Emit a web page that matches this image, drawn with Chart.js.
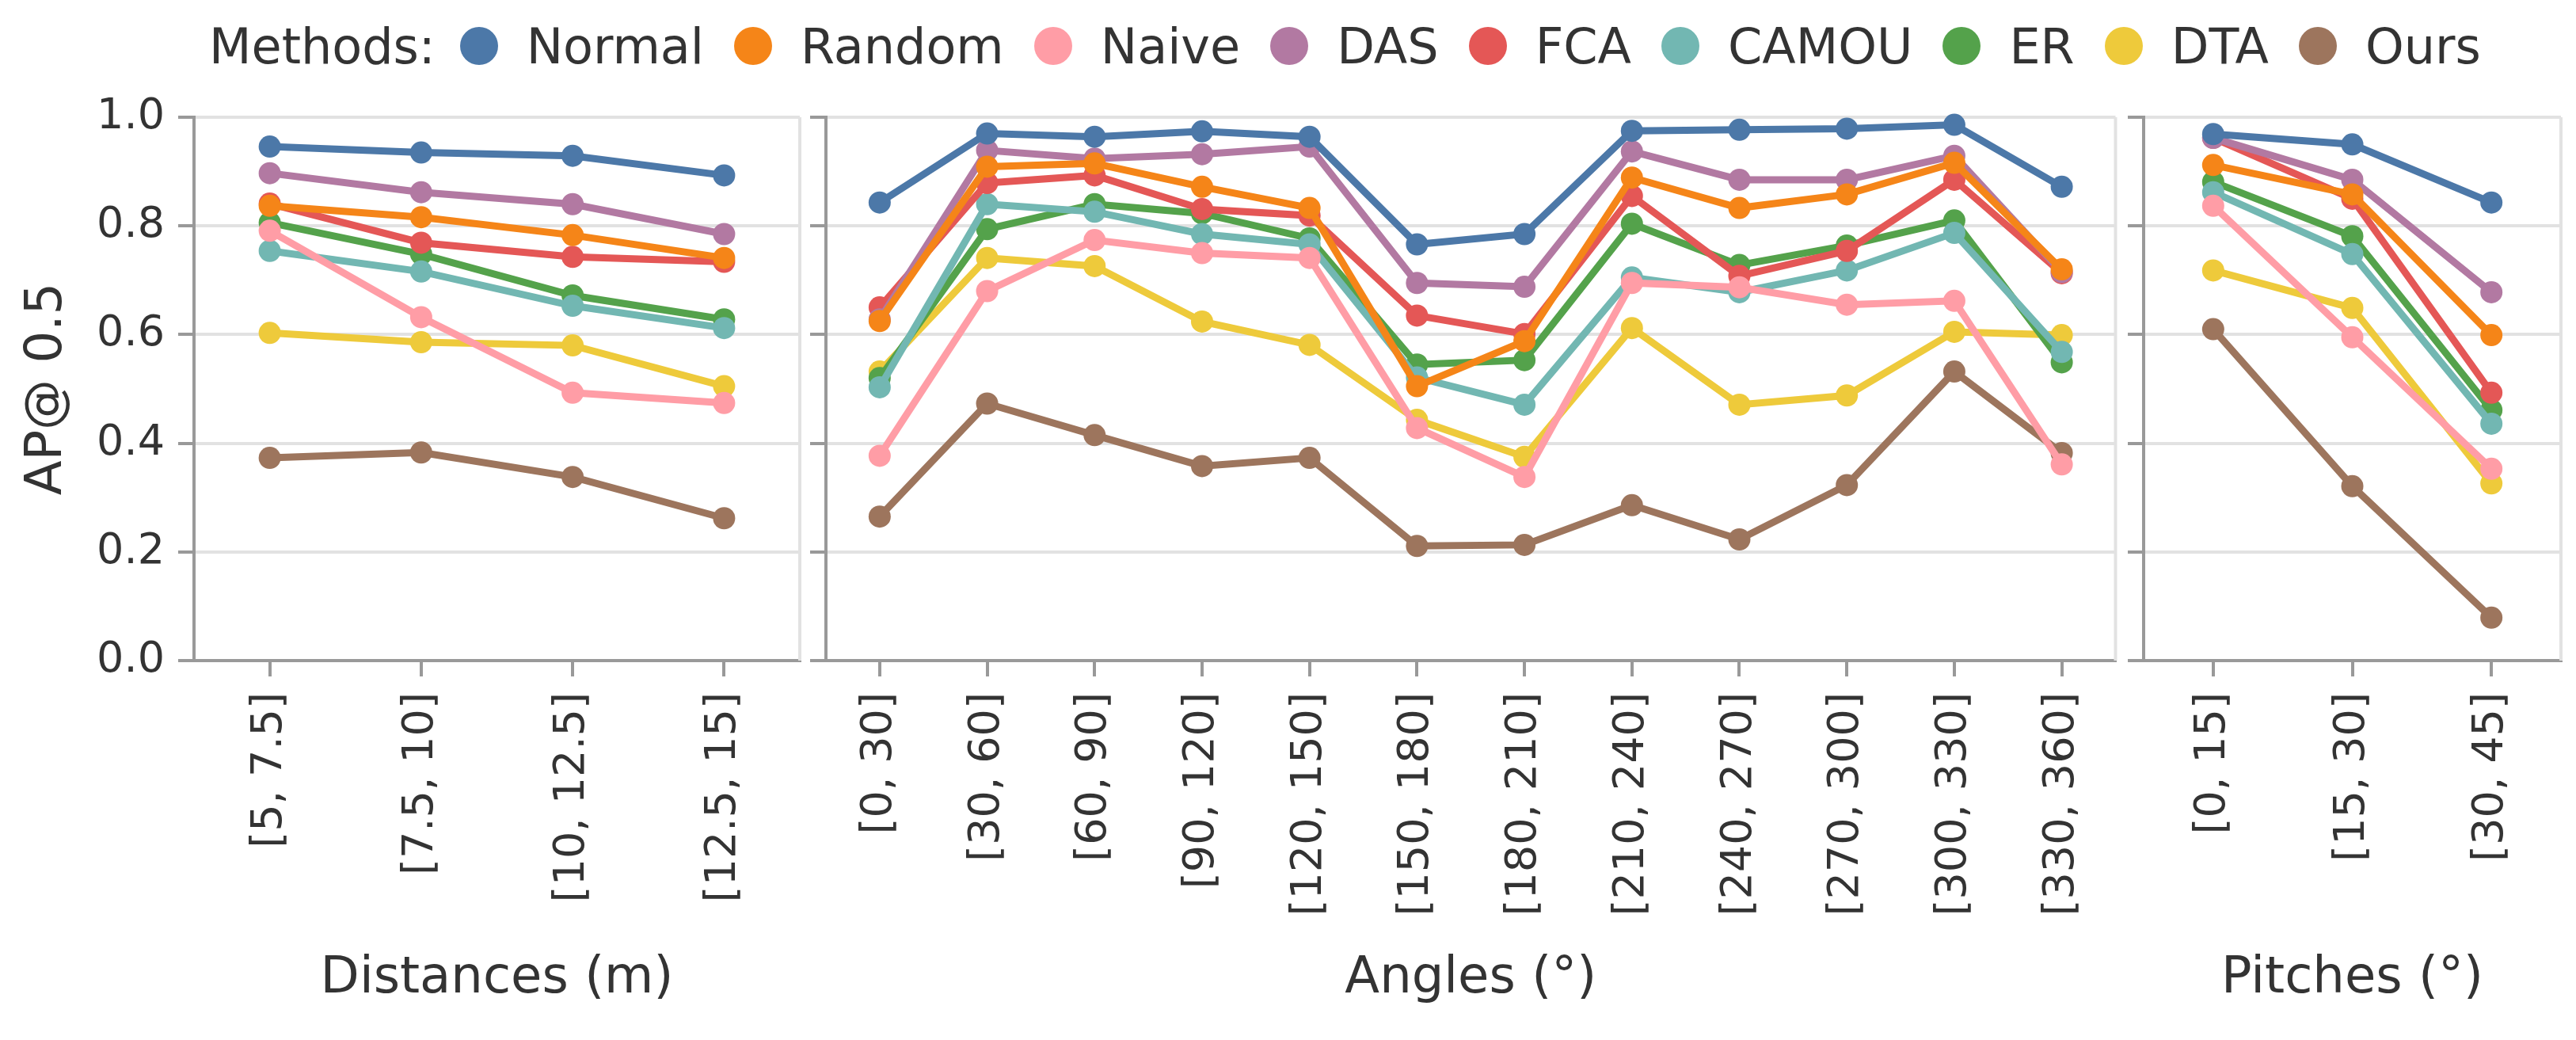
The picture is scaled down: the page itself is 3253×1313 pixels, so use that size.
<!DOCTYPE html>
<html>
<head>
<meta charset="utf-8">
<title>AP@0.5 by distance, angle and pitch</title>
<script src="https://cdn.jsdelivr.net/npm/chart.js@4.4.0/dist/chart.umd.min.js"></script>
<style>
  html, body { margin: 0; padding: 0; background: #fff; }
  body { width: 3253px; height: 1313px; position: relative; overflow: hidden;
         font-family: "DejaVu Sans", sans-serif; color: #333; }
  .panel { position: absolute; top: 0; height: 1313px; }
  #legend { position: absolute; left: 264px; top: 20px; height: 76px; display: flex;
            align-items: center; font-size: 62px; white-space: nowrap; }
  #legend .head { margin-right: 31px; }
  #legend .dot { width: 48px; height: 48px; border-radius: 50%; margin-right: 36px; flex: none; }
  #legend .name { margin-right: 38px; }
</style>
</head>
<body>
<div id="legend"><span class="head">Methods:</span></div>
<div class="panel" id="p1" style="left:0; width:1024px"><canvas id="distChart"></canvas></div>
<div class="panel" id="p2" style="left:1018px; width:1671px"><canvas id="angleChart"></canvas></div>
<div class="panel" id="p3" style="left:2682px; width:566px"><canvas id="pitchChart"></canvas></div>
<script>
const methods = ["Normal", "Random", "Naive", "DAS", "FCA", "CAMOU", "ER", "DTA", "Ours"];
const colors = ["#4c78a8", "#f58518", "#ff9da6", "#b279a2", "#e45756", "#72b7b2", "#54a24b", "#eeca3b", "#9d755d"];

const distanceLabels = ["[5, 7.5]", "[7.5, 10]", "[10, 12.5]", "[12.5, 15]"];
const angleLabels = ["[0, 30]", "[30, 60]", "[60, 90]", "[90, 120]", "[120, 150]", "[150, 180]",
  "[180, 210]", "[210, 240]", "[240, 270]", "[270, 300]", "[300, 330]", "[330, 360]"];
const pitchLabels = ["[0, 15]", "[15, 30]", "[30, 45]"];
const yTicks = [0, 0.2, 0.4, 0.6, 0.8, 1.0];

// rows follow the order of `methods`
const distanceScores = [
  [0.946, 0.935, 0.929, 0.893], // Normal
  [0.837, 0.816, 0.783, 0.741], // Random
  [0.791, 0.632, 0.493, 0.474], // Naive
  [0.897, 0.862, 0.840, 0.785], // DAS
  [0.841, 0.769, 0.743, 0.734], // FCA
  [0.754, 0.716, 0.653, 0.612], // CAMOU
  [0.806, 0.748, 0.672, 0.628], // ER
  [0.603, 0.586, 0.580, 0.505], // DTA
  [0.373, 0.383, 0.338, 0.262]  // Ours
];
const angleScores = [
  [0.843, 0.970, 0.964, 0.974, 0.964, 0.766, 0.785, 0.975, 0.977, 0.979, 0.986, 0.872], // Normal
  [0.625, 0.909, 0.915, 0.872, 0.833, 0.505, 0.588, 0.889, 0.833, 0.858, 0.916, 0.720], // Random
  [0.377, 0.680, 0.774, 0.750, 0.741, 0.428, 0.338, 0.695, 0.687, 0.655, 0.662, 0.361], // Naive
  [0.628, 0.939, 0.924, 0.932, 0.946, 0.695, 0.688, 0.937, 0.885, 0.885, 0.929, 0.715], // DAS
  [0.650, 0.879, 0.893, 0.831, 0.819, 0.635, 0.601, 0.855, 0.708, 0.754, 0.885, 0.713], // FCA
  [0.503, 0.840, 0.826, 0.785, 0.766, 0.521, 0.471, 0.705, 0.678, 0.718, 0.787, 0.568], // CAMOU
  [0.520, 0.794, 0.840, 0.823, 0.777, 0.545, 0.553, 0.804, 0.728, 0.764, 0.810, 0.549], // ER
  [0.532, 0.741, 0.726, 0.624, 0.581, 0.443, 0.375, 0.612, 0.471, 0.488, 0.605, 0.599], // DTA
  [0.265, 0.473, 0.415, 0.358, 0.373, 0.211, 0.213, 0.286, 0.223, 0.323, 0.532, 0.382]  // Ours
];
const pitchScores = [
  [0.969, 0.950, 0.843], // Normal
  [0.912, 0.858, 0.599], // Random
  [0.837, 0.595, 0.353], // Naive
  [0.962, 0.885, 0.678], // DAS
  [0.962, 0.850, 0.493], // FCA
  [0.862, 0.748, 0.436], // CAMOU
  [0.881, 0.781, 0.461], // ER
  [0.718, 0.649, 0.326], // DTA
  [0.610, 0.321, 0.079]  // Ours
];

const gridColor = "#e2e2e2";
const spineColor = "#999999";
const textColor = "#333333";

Chart.defaults.font.family = "'DejaVu Sans', sans-serif";
Chart.defaults.color = textColor;

// legend built from the same arrays
const legend = document.getElementById("legend");
methods.forEach((m, i) => {
  const dot = document.createElement("span");
  dot.className = "dot";
  dot.style.background = colors[i];
  const name = document.createElement("span");
  name.className = "name";
  name.textContent = m;
  legend.appendChild(dot);
  legend.appendChild(name);
});

// light frame line on the right side of each panel
const rightFrame = {
  id: "rightFrame",
  beforeDatasetsDraw(chart) {
    const { ctx, chartArea: a } = chart;
    ctx.save();
    ctx.strokeStyle = gridColor;
    ctx.lineWidth = 4;
    ctx.beginPath();
    ctx.moveTo(a.right, a.top);
    ctx.lineTo(a.right, a.bottom);
    ctx.stroke();
    ctx.restore();
  }
};

function makePanel(canvasId, labels, scores, title, yWidth, showY) {
  const ctx = document.getElementById(canvasId).getContext("2d");
  return new Chart(ctx, {
    type: "line",
    data: {
      labels,
      datasets: methods.map((m, i) => ({
        label: m,
        data: scores[i],
        borderColor: colors[i],
        backgroundColor: colors[i],
        borderWidth: 9,
        pointRadius: 14,
        pointBorderWidth: 0,
        pointBackgroundColor: colors[i],
        fill: false,
        clip: false
      }))
    },
    options: {
      responsive: true,
      maintainAspectRatio: false,
      animation: false,
      layout: { padding: { top: 148, right: 3, bottom: 0, left: 0 } },
      plugins: { legend: { display: false }, tooltip: { enabled: false } },
      scales: {
        x: {
          type: "category",
          offset: true,
          afterFit: (s) => { s.height = 479; },
          grid: { display: true, drawOnChartArea: false, drawTicks: true, tickLength: 20,
                  tickColor: spineColor, lineWidth: 4 },
          border: { display: true, color: spineColor, width: 4 },
          ticks: { autoSkip: false, minRotation: 90, maxRotation: 90, padding: 20,
                   font: { size: 54 }, color: textColor },
          title: { display: true, text: title, font: { size: 64 }, color: textColor,
                   padding: { top: 0, bottom: 38 } }
        },
        y: {
          min: 0,
          max: 1,
          afterFit: (s) => { s.width = yWidth; },
          afterBuildTicks: (s) => { s.ticks = yTicks.map(v => ({ value: v })); },
          grid: { color: (c) => (c.tick && c.tick.value === 0 ? "rgba(0,0,0,0)" : gridColor),
                  lineWidth: 4, tickLength: 20, tickColor: spineColor },
          border: { display: true, color: spineColor, width: 4 },
          ticks: { display: showY, padding: 17, font: { size: 54 }, color: textColor,
                   callback: (v) => Number(v).toFixed(1) },
          title: { display: showY, text: "AP@ 0.5", font: { size: 64 }, color: textColor,
                   padding: { top: 22, bottom: 0 } }
        }
      }
    },
    plugins: [rightFrame]
  });
}

makePanel("distChart", distanceLabels, distanceScores, "Distances (m)", 245, true);
makePanel("angleChart", angleLabels, angleScores, "Angles (°)", 25, false);
makePanel("pitchChart", pitchLabels, pitchScores, "Pitches (°)", 25, false);
</script>
</body>
</html>
